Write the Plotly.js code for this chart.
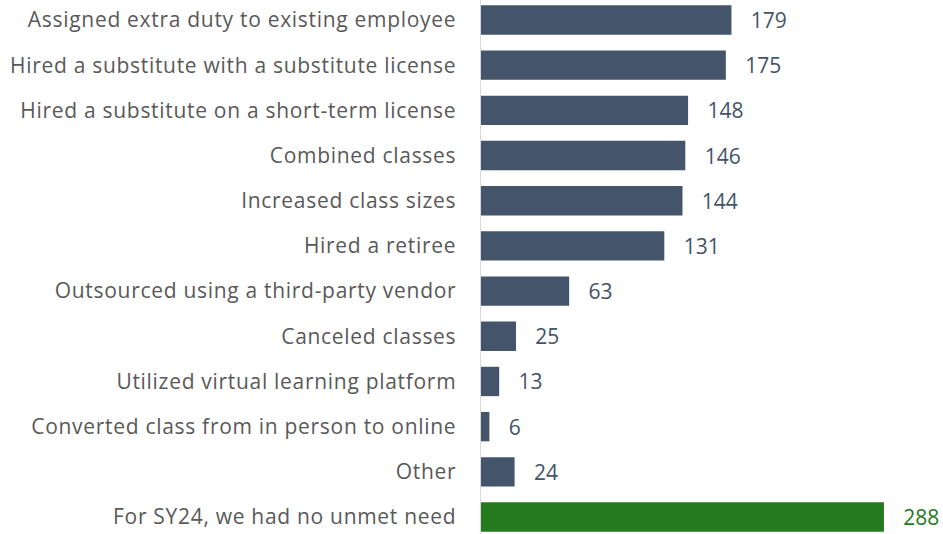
<!DOCTYPE html>
<html>
<head>
<meta charset="utf-8">
<script src="https://cdn.plot.ly/plotly-3.0.1.min.js"></script>
<style>
html,body{margin:0;padding:0;background:#fff;}
#chart{width:943px;height:534px;}
#chart .ytick text{letter-spacing:0.7px;}
</style>
</head>
<body>
<div id="chart"></div>
<script>
const categories = [
  "Assigned extra duty to existing employee",
  "Hired a substitute with a substitute license",
  "Hired a substitute on a short-term license",
  "Combined classes",
  "Increased class sizes",
  "Hired a retiree",
  "Outsourced using a third-party vendor",
  "Canceled classes",
  "Utilized virtual learning platform",
  "Converted class from in person to online",
  "Other",
  "For SY24, we had no unmet need"
];
const values = [179, 175, 148, 146, 144, 131, 63, 25, 13, 6, 24, 288];

const barColor = "#44546A";
const greenColor = "#267A1E";
const colors = categories.map((c, i) => i === categories.length - 1 ? greenColor : barColor);

const trace = {
  type: "bar",
  orientation: "h",
  y: categories,
  x: values,
  marker: {color: colors},
  width: 0.65,
  text: values.map(v => "\u00a0\u00a0\u00a0" + v),
  textposition: "outside",
  cliponaxis: false,
  textfont: {family: "Open Sans, sans-serif", size: 21, color: colors},
  hoverinfo: "skip"
};

const layout = {
  width: 943, height: 534,
  margin: {l: 481, r: 0, t: 0, b: 0},
  paper_bgcolor: "#ffffff",
  plot_bgcolor: "#ffffff",
  showlegend: false,
  xaxis: {range: [0, 330.2], showgrid: false, zeroline: false, showticklabels: false, showline: false, fixedrange: true},
  yaxis: {
    type: "category",
    autorange: false,
    range: [11.376, -0.442],
    showgrid: false, zeroline: false,
    showline: true, linecolor: "#D9D9D9", linewidth: 1.5,
    ticks: "", ticklabelstandoff: 19,
    tickfont: {family: "Open Sans, sans-serif", size: 21, color: "#595959"}
  }
};

Plotly.newPlot("chart", [trace], layout, {displayModeBar: false, staticPlot: true});
</script>
</body>
</html>
